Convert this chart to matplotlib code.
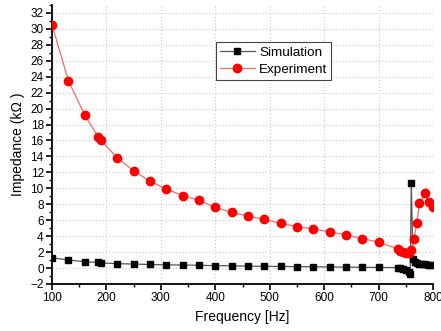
import matplotlib
matplotlib.use("Agg")
import matplotlib.pyplot as plt
from matplotlib.ticker import MultipleLocator

plt.rcParams['font.family'] = ['Liberation Sans', 'DejaVu Sans']

sim_freq = [100, 130, 160, 185, 190, 220, 250, 280, 310, 340, 370, 400, 430, 460,
            490, 520, 550, 580, 610, 640, 670, 700, 735, 740, 745, 750, 755, 758,
            760, 763, 767, 771, 775, 780, 785, 790, 795, 800]
sim_imp = [1.3, 1.0, 0.8, 0.7, 0.65, 0.55, 0.5, 0.45, 0.4, 0.38, 0.35, 0.3, 0.28, 0.25,
           0.22, 0.2, 0.18, 0.16, 0.14, 0.12, 0.1, 0.08, 0.05, -0.05, -0.15, -0.3, -0.45, -0.8,
           10.7, 1.1, 0.8, 0.65, 0.55, 0.5, 0.45, 0.42, 0.4, 0.38]

exp_freq = [100, 130, 160, 185, 190, 220, 250, 280, 310, 340, 370, 400, 430, 460,
            490, 520, 550, 580, 610, 640, 670, 700, 735, 740, 745, 750, 755, 760,
            765, 770, 775, 785, 793, 800]
exp_imp = [30.5, 23.5, 19.2, 16.4, 16.0, 13.8, 12.2, 10.9, 9.9, 9.1, 8.5, 7.6, 7.0, 6.5,
           6.1, 5.6, 5.2, 4.9, 4.55, 4.15, 3.7, 3.25, 2.4, 2.2, 2.0, 1.9, 1.85, 2.3,
           3.6, 5.6, 8.1, 9.4, 8.3, 7.6]

xticks = [100, 200, 300, 400, 500, 600, 700, 800]
yticks = list(range(-2, 33, 2))

fig = plt.figure(figsize=(4.41, 3.31), dpi=100)
ax = fig.add_axes([0.118, 0.142, 0.864, 0.843])

ax.plot(sim_freq, sim_imp, color='#555555', lw=0.9, marker='s', ms=4.6,
        mfc='black', mec='black', label='Simulation', zorder=3)
ax.plot(exp_freq, exp_imp, color='#ff6666', lw=0.9, marker='o', ms=6,
        mfc='red', mec='red', label='Experiment', zorder=4)

ax.set_xlim(100, 800)
ax.set_ylim(-2, 33)
ax.set_xticks(xticks)
ax.set_yticks(yticks)
ax.xaxis.set_minor_locator(MultipleLocator(50))
ax.yaxis.set_minor_locator(MultipleLocator(1))
ax.tick_params(which='major', direction='out', length=4, width=1.2, labelsize=8.5, pad=2)
ax.tick_params(which='minor', direction='out', length=2.5, width=1.0)
for s in ['top', 'right']:
    ax.spines[s].set_visible(False)
for s in ['left', 'bottom']:
    ax.spines[s].set_linewidth(1.3)

ax.grid(True, which='major', color='#c8c8c8', linestyle=(0, (1, 2)), lw=0.8)
ax.set_axisbelow(True)

ax.set_xlabel('Frequency [Hz]', fontsize=10, labelpad=4)
ax.set_ylabel('Impedance (kΩ )', fontsize=10, labelpad=4)

leg = ax.legend(loc='upper left', bbox_to_anchor=(0.43, 0.867), fontsize=9.7,
                frameon=True, fancybox=False, edgecolor='#444444', framealpha=1,
                borderpad=0.3, handlelength=2.6, handletextpad=0.3, labelspacing=0.35,
                borderaxespad=0)
leg.get_frame().set_linewidth(0.8)

fig.savefig('out.png', dpi=100)
